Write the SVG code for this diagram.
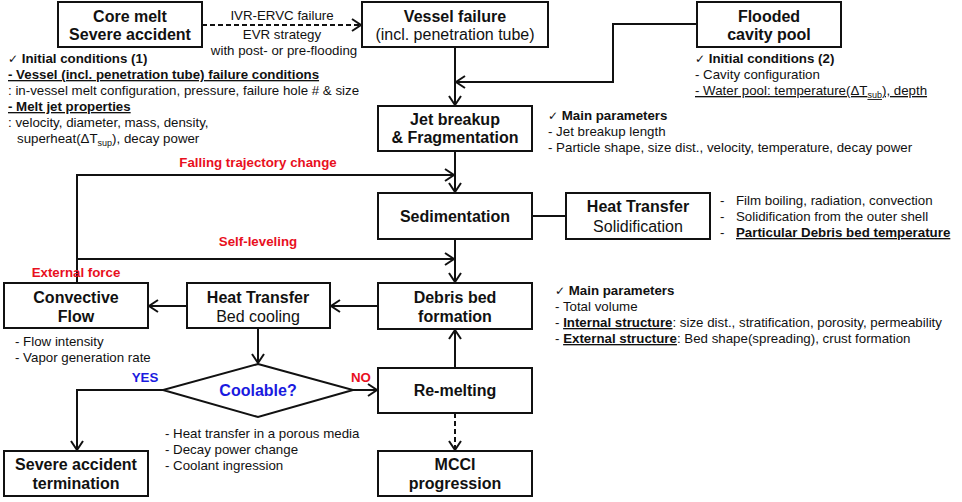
<svg xmlns="http://www.w3.org/2000/svg" width="962" height="502" viewBox="0 0 962 502">
<style>
text{font-family:"Liberation Sans",Arial,"DejaVu Sans",sans-serif;fill:#111}
.box{fill:#fff;stroke:#111;stroke-width:2}
.t{font-size:16px;font-weight:bold;text-anchor:middle}
.tn{font-size:16px;font-weight:normal;text-anchor:middle}
.n{font-size:13.3px}
.b{font-weight:bold}
.u{text-decoration:underline}
.red{fill:#e8101e;font-weight:bold;font-size:13.3px}
.blue{fill:#1a1ae0;font-weight:bold}
.ck{font-family:"DejaVu Sans",sans-serif;font-weight:normal;font-size:12px}
.c{fill:none;stroke:#111;stroke-width:2}
.d{stroke-dasharray:5 3}
</style>
<defs>
<marker id="ar" markerUnits="userSpaceOnUse" markerWidth="14" markerHeight="14" viewBox="-12 -7 14 14" refX="0" refY="0" orient="auto">
<polyline points="-9,-6 0,0 -9,6" fill="none" stroke="#111" stroke-width="2"/>
</marker>
</defs>
<rect width="962" height="502" fill="#fff"/>
<g id="connectors">
<line class="c d" x1="202" y1="25" x2="361" y2="25" marker-end="url(#ar)"/>
<polyline class="c" points="697,24 613,24 613,82 456,82" marker-end="url(#ar)"/>
<line class="c" x1="455" y1="47" x2="455" y2="105" marker-end="url(#ar)"/>
<line class="c" x1="455" y1="151" x2="455" y2="192" marker-end="url(#ar)"/>
<polyline class="c" points="77,283 77,175 454,175" marker-end="url(#ar)"/>
<line class="c" x1="455" y1="239" x2="455" y2="282" marker-end="url(#ar)"/>
<line class="c" x1="77" y1="259" x2="454" y2="259" marker-end="url(#ar)"/>
<line class="c" x1="532" y1="216" x2="566" y2="216"/>
<line class="c" x1="378" y1="306" x2="331" y2="306" marker-end="url(#ar)"/>
<line class="c" x1="187" y1="306" x2="149" y2="306" marker-end="url(#ar)"/>
<line class="c" x1="258" y1="328" x2="258" y2="363" marker-end="url(#ar)"/>
<line class="c" x1="353" y1="390" x2="377" y2="390" marker-end="url(#ar)"/>
<line class="c" x1="455" y1="368" x2="455" y2="330" marker-end="url(#ar)"/>
<line class="c d" x1="455" y1="413" x2="455" y2="450" marker-end="url(#ar)"/>
<polyline class="c" points="163,390 77,390 77,450" marker-end="url(#ar)"/>
</g>
<g id="core-melt"><rect class="box" x="58" y="2" width="144" height="45"/>
<text class="t" x="130" y="22">Core melt</text><text class="t" x="130" y="40">Severe accident</text></g>
<g id="vessel-failure"><rect class="box" x="362" y="2" width="186" height="45"/>
<text class="t" x="455" y="22">Vessel failure</text><text class="tn" x="455" y="40">(incl. penetration tube)</text></g>
<g id="flooded-pool"><rect class="box" x="697" y="2" width="144" height="45"/>
<text class="t" x="769" y="22">Flooded</text><text class="t" x="769" y="40">cavity pool</text></g>
<g id="jet-breakup"><rect class="box" x="378" y="106" width="154" height="45"/>
<text class="t" x="455" y="125">Jet breakup</text><text class="t" x="455" y="143">&amp; Fragmentation</text></g>
<g id="sedimentation"><rect class="box" x="378" y="193" width="154" height="46"/>
<text class="t" x="455" y="222">Sedimentation</text></g>
<g id="ht-solid"><rect class="box" x="566" y="193" width="144" height="46"/>
<text class="t" x="638" y="212">Heat Transfer</text><text class="tn" x="638" y="232">Solidification</text></g>
<g id="debris-bed"><rect class="box" x="378" y="283" width="154" height="46"/>
<text class="t" x="455" y="303">Debris bed</text><text class="t" x="455" y="322">formation</text></g>
<g id="ht-bed"><rect class="box" x="187" y="283" width="143" height="45"/>
<text class="t" x="258" y="303">Heat Transfer</text><text class="tn" x="258" y="322">Bed cooling</text></g>
<g id="convective"><rect class="box" x="4" y="283" width="144" height="45"/>
<text class="t" x="76" y="303">Convective</text><text class="t" x="76" y="322">Flow</text></g>
<g id="coolable"><polygon class="box" points="258,364 353,390 258,417 163,390"/>
<text class="t blue" x="258" y="396">Coolable?</text></g>
<g id="re-melting"><rect class="box" x="378" y="368" width="154" height="45"/>
<text class="t" x="455" y="396">Re-melting</text></g>
<g id="mcci"><rect class="box" x="378" y="451" width="154" height="45"/>
<text class="t" x="455" y="470">MCCI</text><text class="t" x="455" y="489">progression</text></g>
<g id="termination"><rect class="box" x="4" y="451" width="144" height="45"/>
<text class="t" x="76" y="470">Severe accident</text><text class="t" x="76" y="489">termination</text></g>
<g id="labels">
<text class="n" text-anchor="middle" x="282" y="20">IVR-ERVC failure</text>
<text class="n" text-anchor="middle" x="282" y="39">EVR strategy</text>
<text class="n" text-anchor="middle" x="284" y="55">with post- or pre-flooding</text>
<text class="red" text-anchor="middle" x="258" y="167">Falling trajectory change</text>
<text class="red" text-anchor="middle" x="258" y="246">Self-leveling</text>
<text class="red" text-anchor="middle" x="76" y="277">External force</text>
<text class="blue" font-size="13.3" text-anchor="middle" x="145" y="382">YES</text>
<text class="red" text-anchor="middle" x="361" y="382">NO</text>
</g>
<g id="notes-initial-1" class="n">
<text class="n b" x="8" y="63"><tspan class="ck">✓</tspan> Initial conditions (1)</text>
<text class="n b u" x="8" y="79">- Vessel (incl. penetration tube) failure conditions</text>
<text class="n" x="8" y="95">: in-vessel melt configuration, pressure, failure hole # &amp; size</text>
<text class="n b u" x="8" y="111">- Melt jet properties</text>
<text class="n" x="8" y="127">: velocity, diameter, mass, density,</text>
<text class="n" x="17" y="143">superheat(ΔT<tspan font-size="9" dy="3">sup</tspan><tspan dy="-3">), decay power</tspan></text>
</g>
<g id="notes-initial-2">
<text class="n b" x="695" y="63"><tspan class="ck">✓</tspan> Initial conditions (2)</text>
<text class="n" x="695" y="79">- Cavity configuration</text>
<text class="n u" x="695" y="95">- Water pool: temperature(ΔT<tspan font-size="9" dy="3">sub</tspan><tspan dy="-3">), depth</tspan></text>
</g>
<g id="notes-jet">
<text class="n b" x="548" y="120"><tspan class="ck">✓</tspan> Main parameters</text>
<text class="n" x="548" y="136">- Jet breakup length</text>
<text class="n" x="548" y="152">- Particle shape, size dist., velocity, temperature, decay power</text>
</g>
<g id="notes-solid">
<text class="n" x="720" y="205">-</text><text class="n" x="736" y="205">Film boiling, radiation, convection</text>
<text class="n" x="720" y="221">-</text><text class="n" x="736" y="221">Solidification from the outer shell</text>
<text class="n" x="720" y="237">-</text><text class="n b u" x="736" y="237">Particular Debris bed temperature</text>
</g>
<g id="notes-debris">
<text class="n b" x="555" y="295"><tspan class="ck">✓</tspan> Main parameters</text>
<text class="n" x="555" y="311">- Total volume</text>
<text class="n" x="555" y="327">- <tspan class="b u">Internal structure</tspan>: size dist., stratification, porosity, permeability</text>
<text class="n" x="555" y="343">- <tspan class="b u">External structure</tspan>: Bed shape(spreading), crust formation</text>
</g>
<g id="notes-convective">
<text class="n" x="15" y="346">- Flow intensity</text>
<text class="n" x="15" y="362">- Vapor generation rate</text>
</g>
<g id="notes-coolable">
<text class="n" x="165" y="438">- Heat transfer in a porous media</text>
<text class="n" x="165" y="454">- Decay power change</text>
<text class="n" x="165" y="470">- Coolant ingression</text>
</g>
</svg>
